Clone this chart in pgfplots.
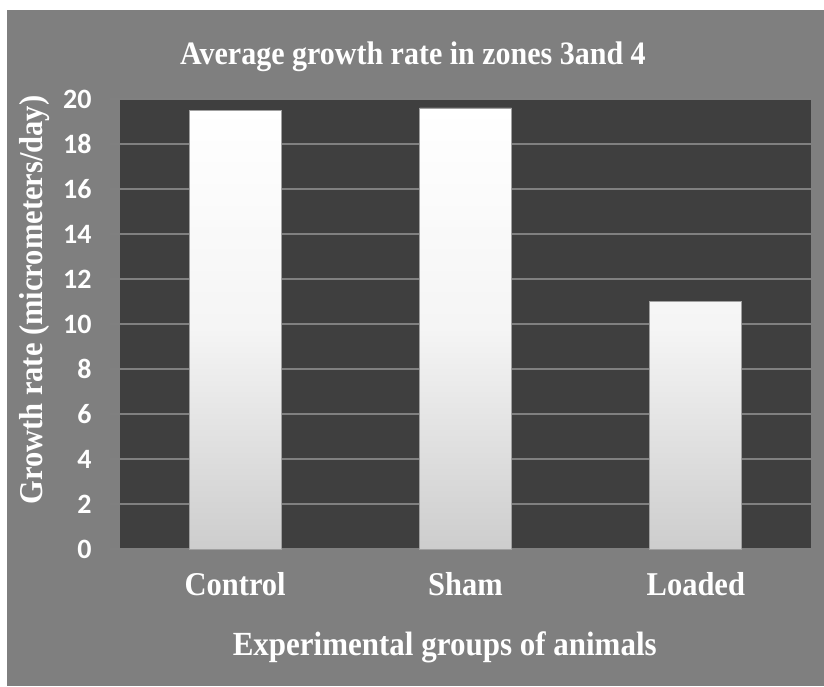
\documentclass[border=0pt]{standalone}
\usepackage{pgfplots}
\pgfplotsset{compat=1.18}
\usepackage{graphicx}
\usepackage{fontspec}
\setmainfont{Liberation Serif}
\newfontfamily\numfont{Carlito}
\definecolor{outerbg}{HTML}{7F7F7F}
\definecolor{plotbg}{HTML}{3F3F3F}
\definecolor{gridc}{HTML}{808080}
\definecolor{barlow}{HTML}{CDCDCD}
\definecolor{baredge}{HTML}{A0A0A0}
% serif labels are set slightly taller than wide
\newcommand{\tall}[1]{\scalebox{1}[1.09]{#1}}

\begin{document}
\begin{tikzpicture}
% page and chart area
\fill[white] (0pt,0pt) rectangle (824pt,686pt);
\fill[outerbg] (7pt,0pt) rectangle (824pt,676pt);
\begin{axis}[
  at={(120pt,137pt)}, anchor=south west,
  scale only axis, width=691pt, height=450pt,
  xmin=-0.5, xmax=2.5, ymin=0, ymax=20,
  xtick={0,1,2},
  xticklabels={\tall{Control},\tall{Sham},\tall{Loaded}},
  ytick={0,2,...,20},
  axis background/.style={fill=plotbg},
  axis line style={draw=none},
  ymajorgrids, grid style={gridc, line width=1.5pt},
  ytick pos=left, xtick style={draw=none},
  ytick style={gridc, line width=1.5pt},
  tick align=outside, major tick length=10pt,
  title={\tall{Average growth rate in zones 3and 4}},
  every axis title/.style={at={(axis description cs:0.424,1.0756)}, anchor=base,
    font=\fontsize{30}{36}\selectfont\bfseries, text=white},
  xlabel={\tall{Experimental groups of animals}},
  every axis x label/.style={at={(axis description cs:0.470,-0.2356)}, anchor=base,
    font=\fontsize{31}{36}\selectfont\bfseries, text=white},
  ylabel={\tall{Growth rate (micrometers/day)}},
  every axis y label/.style={at={(axis description cs:-0.123,0.553)}, rotate=90, anchor=center,
    font=\fontsize{30.5}{36}\selectfont\bfseries, text=white},
  xticklabel style={anchor=base, yshift=-36pt,
    font=\fontsize{30.5}{36}\selectfont\bfseries, text=white},
  yticklabel style={xshift=-15pt, font=\numfont\fontsize{28}{32}\selectfont\bfseries, text=white},
  /pgf/number format/assume math mode=true,
]
\addplot[ybar, bar width=92pt, draw=baredge, line width=0.8pt,
  top color=white, bottom color=barlow, middle color=white!96!black]
  coordinates {(0,19.5) (1,19.6) (2,11.0)};
\end{axis}
\end{tikzpicture}
\end{document}
